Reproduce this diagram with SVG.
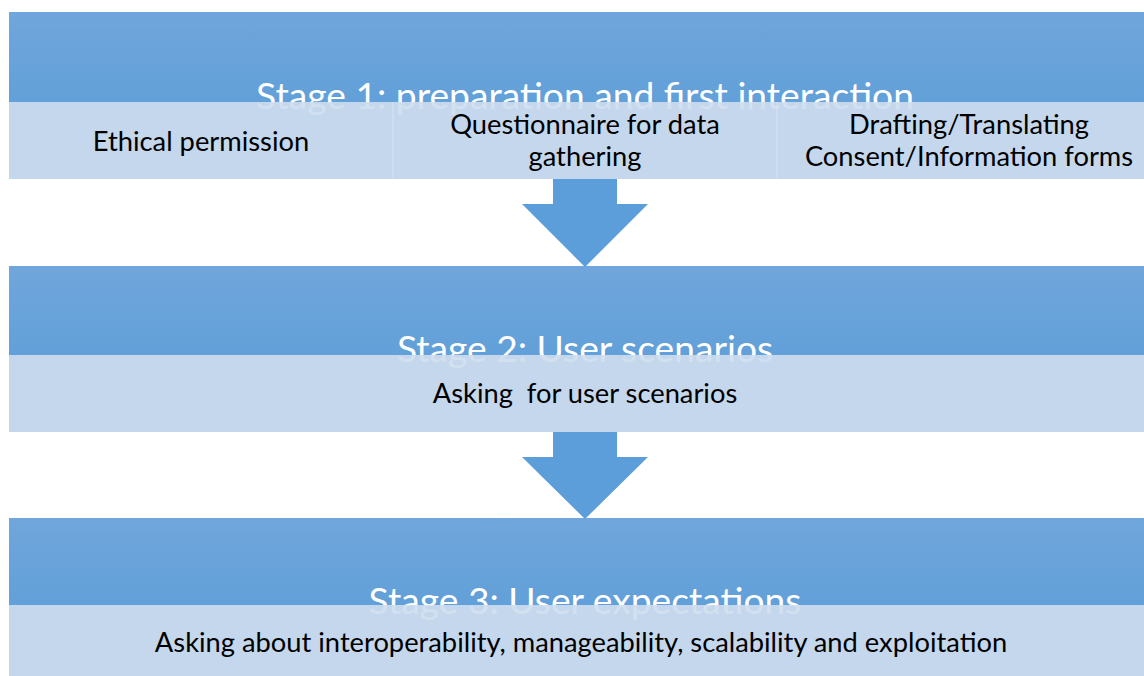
<svg xmlns="http://www.w3.org/2000/svg" width="1144" height="676" viewBox="0 0 1144 676">
  <defs>
    <linearGradient id="hdr" x1="0" y1="0" x2="0" y2="1">
      <stop offset="0" stop-color="#70a6db"/>
      <stop offset="1" stop-color="#62a0d9"/>
    </linearGradient>
    <style>
      .hdr { fill: url(#hdr); }
      .band { fill: #c5d7ec; }
      .veil { fill: #c5d7ec; fill-opacity: 0.78; }
      .div { stroke: #d6e3f2; stroke-width: 1; }
      .title { font-family: Lato, "Open Sans", sans-serif; font-size: 37.2px; fill: #ffffff; text-anchor: middle; }
      .body { font-family: Lato, "Open Sans", sans-serif; font-size: 27.3px; fill: #000000; text-anchor: middle; }
      .arrow { fill: #5b9ed9; }
    </style>
  </defs>
  <rect width="1144" height="676" fill="#ffffff"/>

  <g id="stage1">
    <rect class="hdr" x="9" y="12" width="1152" height="90"/>
    <rect class="band" x="9" y="102" width="1152" height="77"/>
    <text class="title" x="585" y="109">Stage 1: preparation and first interaction</text>
    <rect class="veil" x="9" y="102" width="1152" height="77"/>
    <line class="div" x1="393" y1="102" x2="393" y2="179"/>
    <line class="div" x1="777" y1="102" x2="777" y2="179"/>
    <text class="body" x="201" y="151">Ethical permission</text>
    <text class="body" x="585" y="134">Questionnaire for data</text>
    <text class="body" x="585" y="166">gathering</text>
    <text class="body" x="969" y="134">Drafting/Translating</text>
    <text class="body" x="969" y="166">Consent/Information forms</text>
  </g>

  <g id="stage2">
    <rect class="hdr" x="9" y="266" width="1152" height="89"/>
    <rect class="band" x="9" y="355" width="1152" height="77"/>
    <text class="title" x="585" y="362">Stage 2: User scenarios</text>
    <rect class="veil" x="9" y="355" width="1152" height="77"/>
    <text class="body" x="585" y="403" xml:space="preserve">Asking  for user scenarios</text>
  </g>

  <g id="stage3">
    <rect class="hdr" x="9" y="518" width="1152" height="87"/>
    <rect class="band" x="9" y="605" width="1152" height="80"/>
    <text class="title" x="585" y="614">Stage 3: User expectations</text>
    <rect class="veil" x="9" y="605" width="1152" height="80"/>
    <text class="body" x="581" y="652">Asking about interoperability, manageability, scalability and exploitation</text>
  </g>

  <g id="connectors">
    <polygon class="arrow" points="553,179 617,179 617,204 648,204 585,267 522,204 553,204"/>
    <polygon class="arrow" points="553,432 617,432 617,457 648,457 585,519 522,457 553,457"/>
  </g>
</svg>
